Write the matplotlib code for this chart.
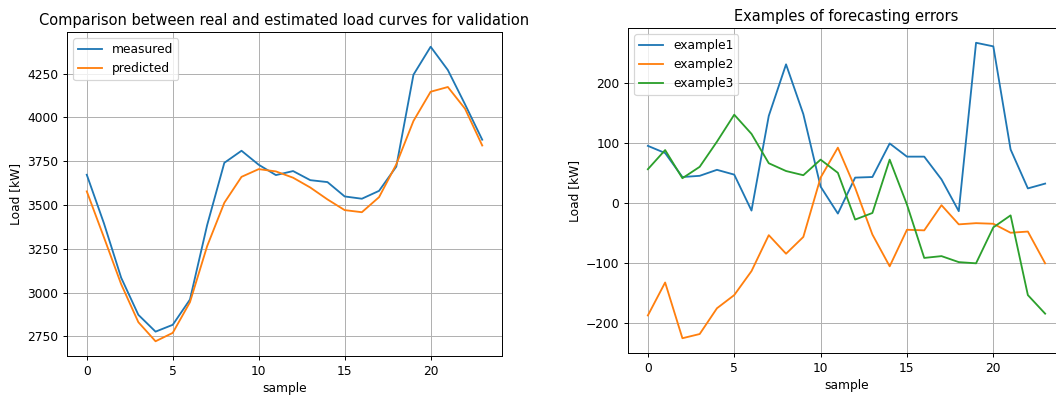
import matplotlib
matplotlib.use("Agg")
import matplotlib.pyplot as plt

samples = list(range(24))

measured = [3673, 3395, 3085, 2873, 2777, 2816, 2960, 3385, 3741, 3810, 3730, 3671,
            3694, 3642, 3631, 3549, 3536, 3581, 3719, 4244, 4404, 4271, 4075, 3873]
predicted = [3578, 3315, 3048, 2831, 2722, 2770, 2945, 3265, 3513, 3661, 3705, 3692,
             3656, 3600, 3532, 3471, 3459, 3545, 3732, 3980, 4147, 4174, 4050, 3840]

example1 = [95, 83, 43, 45, 55, 47, -13, 145, 231, 148, 27, -18,
            42, 43, 99, 77, 77, 39, -14, 267, 261, 89, 24, 32]
example2 = [-188, -133, -226, -219, -176, -154, -114, -54, -85, -57, 42, 92,
            25, -53, -106, -45, -46, -4, -36, -34, -35, -50, -48, -101]
example3 = [56, 88, 41, 60, 102, 147, 115, 66, 53, 46, 72, 50,
            -28, -17, 72, -3, -92, -89, -99, -101, -41, -21, -154, -185]

DPI = 88
W, H = 1056, 395
fig = plt.figure(figsize=(W / DPI, H / DPI), dpi=DPI)

ax1 = fig.add_axes([67 / W, (H - 356) / H, 435 / W, 324 / H])
ax2 = fig.add_axes([628 / W, (H - 353) / H, 437 / W, 325 / H])

ax1.plot(samples, measured, label="measured")
ax1.plot(samples, predicted, label="predicted")
ax1.set_title("Comparison between real and estimated load curves for validation")
ax1.set_xlabel("sample")
ax1.set_ylabel("Load [kW]")
ax1.set_yticks([2750, 3000, 3250, 3500, 3750, 4000, 4250])
ax1.grid(True)
ax1.legend(loc="upper left")

ax2.plot(samples, example1, label="example1")
ax2.plot(samples, example2, label="example2")
ax2.plot(samples, example3, label="example3")
ax2.set_title("Examples of forecasting errors")
ax2.set_xlabel("sample")
ax2.set_ylabel("Load [kW]")
ax2.grid(True)
ax2.legend(loc="upper left")

fig.savefig("out.png", dpi=DPI)
